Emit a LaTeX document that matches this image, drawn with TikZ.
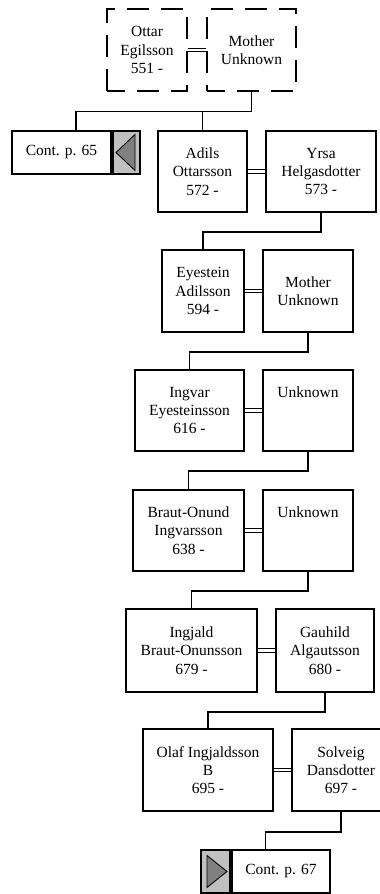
\documentclass[tikz,border=0pt]{standalone}
\usepackage{fontspec}
\setmainfont{Liberation Serif}
\usetikzlibrary{calc}
\definecolor{contgray}{HTML}{C0C0C0}
\definecolor{tridark}{HTML}{808080}
\begin{document}
\begin{tikzpicture}[x=1pt,y=-1pt,
  person/.style={draw, line width=1.8pt, fill=white, align=center, inner sep=0pt,
     minimum height=82pt, font=\fontsize{15.5}{18.3}\selectfont},
  dashedbox/.style={line width=1.1pt, dash pattern=on 22pt off 12pt, dash phase=4pt},
  contbox/.style={draw, line width=2pt, fill=white, inner sep=0pt, minimum height=43pt,
     font=\fontsize{15.5}{18.3}\selectfont},
  contside/.style={draw, line width=2pt, fill=contgray, inner sep=0pt, minimum height=43pt, minimum width=27pt},
  tri/.style={draw, line width=0.9pt, fill=tridark},
  marr/.style={double, double distance=2.2pt, line width=1pt},
  conn/.style={line width=1.6pt}]
\useasboundingbox (0,0) rectangle (380,894);
\clip (0,0) rectangle (380,894);

% generation 1
\node[person, dashedbox, minimum width=80pt] (ottar) at (147,50) {Ottar\\Egilsson\\551 -};
\node[person, dashedbox, minimum width=89pt] (mu1) at (251.5,50) {Mother\\Unknown};
\draw[marr] (ottar.east) -- (mu1.west);

% generation 2
\node[contbox, minimum width=99pt] (c65) at (61.5,152.5) {Cont. p. 65};
\node[contside, anchor=west] (c65g) at (c65.east) {};
\draw[tri] ([shift={(8.5,-18)}]c65g.center) -- ([shift={(8.5,18)}]c65g.center) -- ([shift={(-10.5,0)}]c65g.center) -- cycle;
\coordinate (c65top) at ($(c65.north west)!0.5!(c65g.north east)$);
\node[person, minimum width=89pt, minimum height=81pt] (adils) at (202.5,171.5) {Adils\\Ottarsson\\572 -};
\node[person, minimum width=110pt, minimum height=81pt] (yrsa) at (321,171.5) {Yrsa\\Helgasdotter\\573 -};
\draw[marr] (adils.east) -- (yrsa.west);
\draw[conn] (mu1.south) -- ++(0,20) coordinate (j1);
\draw[conn] (j1) -| (c65top);
\draw[conn] (j1) -| (adils.north);

% generation 3
\node[person, minimum width=82pt] (eyestein) at (203,291) {Eyestein\\Adilsson\\594 -};
\node[person, minimum width=90pt] (mu2) at (308,291) {Mother\\Unknown};
\draw[marr] (eyestein.east) -- (mu2.west);
\draw[conn] (yrsa.south) -- ++(0,19) -| (eyestein.north);

% generation 4
\node[person, minimum width=109pt, minimum height=81pt] (ingvar) at (189.5,410.5) {Ingvar\\Eyesteinsson\\616 -};
\node[person, minimum width=90pt, minimum height=81pt] (unk1) at (308,410.5) {Unknown\\~\\~};
\draw[marr] (ingvar.east) -- (unk1.west);
\draw[conn] (mu2.south) -- ++(0,19) -| (ingvar.north);

% generation 5
\node[person, minimum width=111pt, minimum height=81pt] (braut) at (188.5,530.5) {Braut-Onund\\Ingvarsson\\638 -};
\node[person, minimum width=90pt, minimum height=81pt] (unk2) at (308,530.5) {Unknown\\~\\~};
\draw[marr] (braut.east) -- (unk2.west);
\draw[conn] (unk1.south) -- ++(0,19) -| (braut.north);

% generation 6
\node[person, minimum width=131pt, minimum height=83pt] (ingjald) at (191.5,650.5) {Ingjald\\Braut-Onunsson\\679 -};
\node[person, minimum width=98pt, minimum height=83pt] (gauhild) at (325,650.5) {Gauhild\\Algautsson\\680 -};
\draw[marr] (ingjald.east) -- (gauhild.west);
\draw[conn] (unk2.south) -- ++(0,19) -| (ingjald.north);

% generation 7
\node[person, minimum width=130pt] (olaf) at (208,770) {Olaf Ingjaldsson\\B\\695 -};
\node[person, minimum width=98pt] (solveig) at (341,770) {Solveig\\Dansdotter\\697 -};
\draw[marr] (olaf.east) -- (solveig.west);
\draw[conn] (gauhild.south) -- ++(0,19) -| (olaf.north);

% generation 8
\node[contbox, minimum width=98pt] (c67) at (281,871.5) {Cont. p. 67};
\node[contside, minimum width=29pt, anchor=east] (c67g) at (c67.west) {};
\draw[tri] ([shift={(-8.5,-16)}]c67g.center) -- ([shift={(-8.5,16)}]c67g.center) -- ([shift={(11.5,0)}]c67g.center) -- cycle;
\coordinate (c67top) at ($(c67g.north west)!0.5!(c67.north east)$);
\draw[conn] (solveig.south) -- ++(0,20) -| (c67top);
\end{tikzpicture}
\end{document}
